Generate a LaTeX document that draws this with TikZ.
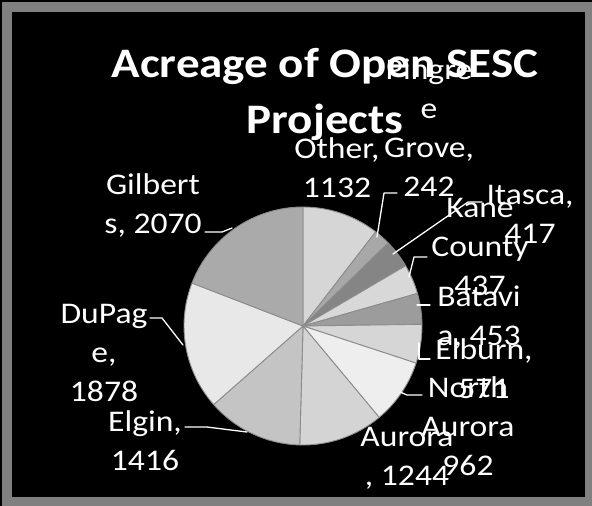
\documentclass[tikz,border=0pt]{standalone}
\usepackage{fontspec}
\setmainfont{Carlito}
\newfontfamily\labfont[FakeStretch=1.12]{Carlito}
\definecolor{cOth}{HTML}{D6D6D6}
\definecolor{cPin}{HTML}{A8A8A8}
\definecolor{cIta}{HTML}{858585}
\definecolor{cKan}{HTML}{D8D8D8}
\definecolor{cBat}{HTML}{9C9C9C}
\definecolor{cElb}{HTML}{D6D6D6}
\definecolor{cNau}{HTML}{EEEEEE}
\definecolor{cAur}{HTML}{D4D4D4}
\definecolor{cElg}{HTML}{C4C4C4}
\definecolor{cDup}{HTML}{E8E8E8}
\definecolor{cGil}{HTML}{AAAAAA}
\tikzset{
  lab/.style={font=\labfont\fontsize{30}{39}\selectfont, text=white, align=center, inner sep=0pt, anchor=base},
  leader/.style={white, line width=1.3pt},
  slice/.style={draw=black!45, line width=0.9pt}
}
\begin{document}
\begin{tikzpicture}[x=1pt, y=1pt, line join=round, line cap=round]
\useasboundingbox (0,0) rectangle (592,-506);
% frame
\shade[top color=black!50, middle color=black!12, bottom color=black!50] (0,0) rectangle (592,-506);
\draw[black, line width=3pt] (0,-506) -- (0,0) -- (592,0);
\fill[black] (12,-12) rectangle (585,-497);
% title
\node[lab, font=\labfont\bfseries\fontsize{42}{56}\selectfont] (title) at (325,-133) {Acreage of Open SESC\\Projects};
% pie
\coordinate (c) at (303,-326);
\filldraw[slice, fill=cOth] (c) -- ++(90:119) arc[start angle=90, end angle=52.34, radius=119] -- cycle;
\filldraw[slice, fill=cPin] (c) -- ++(52.34:119) arc[start angle=52.34, end angle=44.29, radius=119] -- cycle;
\filldraw[slice, fill=cIta] (c) -- ++(44.29:119) arc[start angle=44.29, end angle=30.42, radius=119] -- cycle;
\filldraw[slice, fill=cKan] (c) -- ++(30.42:119) arc[start angle=30.42, end angle=15.88, radius=119] -- cycle;
\filldraw[slice, fill=cBat] (c) -- ++(15.88:119) arc[start angle=15.88, end angle=0.81, radius=119] -- cycle;
\filldraw[slice, fill=cElb] (c) -- ++(0.81:119) arc[start angle=0.81, end angle=-18.18, radius=119] -- cycle;
\filldraw[slice, fill=cNau] (c) -- ++(-18.18:119) arc[start angle=-18.18, end angle=-50.18, radius=119] -- cycle;
\filldraw[slice, fill=cAur] (c) -- ++(-50.18:119) arc[start angle=-50.18, end angle=-91.57, radius=119] -- cycle;
\filldraw[slice, fill=cElg] (c) -- ++(-91.57:119) arc[start angle=-91.57, end angle=-138.67, radius=119] -- cycle;
\filldraw[slice, fill=cDup] (c) -- ++(-138.67:119) arc[start angle=-138.67, end angle=-201.15, radius=119] -- cycle;
\filldraw[slice, fill=cGil] (c) -- ++(-201.15:119) arc[start angle=-201.15, end angle=-270, radius=119] -- cycle;
% labels (base = last line)
\node[lab] (gil) at (153,-233) {Gilbert\\s, 2070};
\node[lab] (dup) at (104,-401) {DuPag\\e,\\1878};
\node[lab] (elg) at (145,-470) {Elgin,\\1416};
\node[lab] (aur) at (407,-485) {Aurora\\, 1244};
\node[lab] (nau) at (468,-475) {North\\Aurora\\962};
\node[lab] (elb) at (484,-398) {Elburn,\\571};
\node[lab] (bat) at (479,-345) {Batavi\\a, 453};
\node[lab] (kan) at (480,-295) {Kane\\County\\437};
\node[lab] (ita) at (530,-243) {Itasca,\\417};
\node[lab] (pin) at (429,-196) {Pingre\\e\\Grove,\\242};
\node[lab] (oth) at (337,-197) {Other,\\1132};
% leader lines
\coordinate (gilA) at (205,-232); \coordinate (gilB) at (232,-228);
\coordinate (dupA) at (150,-318); \coordinate (dupB) at (183,-345);
\coordinate (elgA) at (185,-427); \coordinate (elgB) at (247,-432);
\coordinate (nauA) at (422,-395); \coordinate (nauB) at (400,-392);
\coordinate (elbA) at (430,-359); \coordinate (elbB) at (419,-343);
\coordinate (batA) at (430,-305); \coordinate (batB) at (417,-305);
\coordinate (kanA) at (427,-257); \coordinate (kanB) at (409,-277);
\coordinate (itaA) at (482,-202); \coordinate (itaB) at (393,-254);
\coordinate (pinA) at (397,-193); \coordinate (pinB) at (377,-237);
\draw[leader] (gilA) -- ++(17,0) -- (gilB);
\draw[leader] (dupA) -- ++(12,0) -- (dupB);
\draw[leader] (elgA) -- ++(22,0) -- (elgB);
\draw[leader] (nauA) -- ++(-15,0) -- (nauB);
\draw[leader] (elbA) -- ++(-11,0) -- (elbB);
\draw[leader] (batA) -- (batB);
\draw[leader] (kanA) -- ++(-13,0) -- (kanB);
\draw[leader] (itaA) -- ++(-14,0) -- (itaB);
\draw[leader] (pinA) -- ++(-13,0) -- (pinB);
\end{tikzpicture}
\end{document}
